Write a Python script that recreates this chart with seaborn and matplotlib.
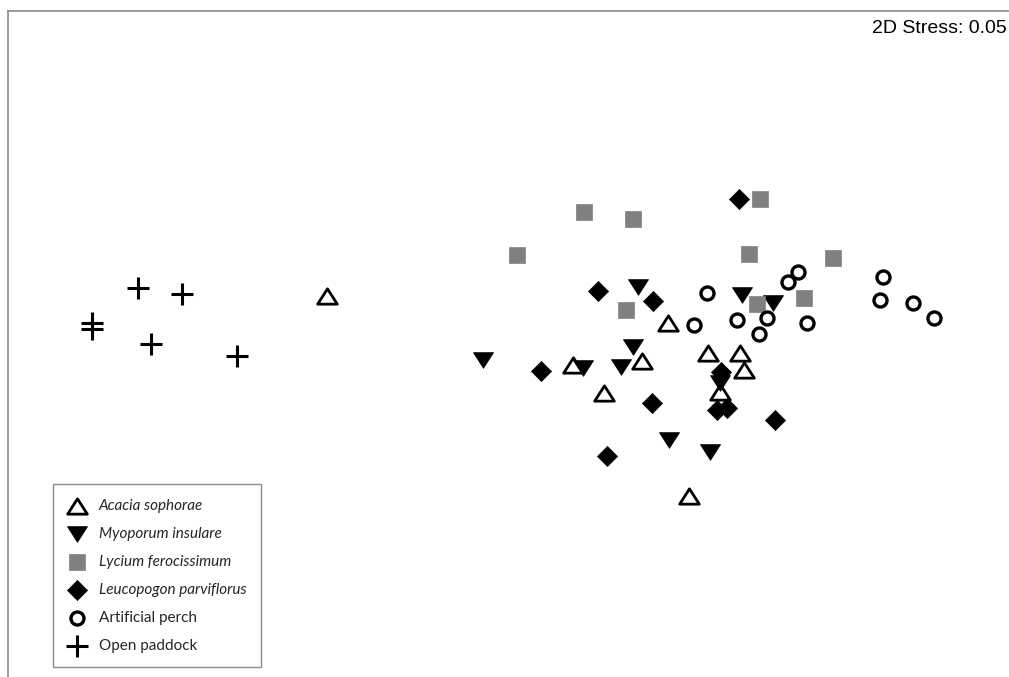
import matplotlib
matplotlib.use("Agg")
import matplotlib.pyplot as plt
from matplotlib.path import Path
import seaborn as sns
import pandas as pd

# NMDS ordination scores (axis 1, axis 2) per substrate group
acacia_x = [327, 668, 573, 642, 604, 708, 740, 744, 720, 689]
acacia_y = [381, 354, 312, 316, 284, 324, 324, 307, 285, 181]

myoporum_x = [483, 583, 621, 633, 638, 742, 773, 720, 669, 710]
myoporum_y = [317, 309, 310, 330, 390, 382, 374, 294, 237, 225]

lycium_x = [517, 584, 633, 760, 749, 833, 757, 804, 626]
lycium_y = [422, 465, 458, 478, 423, 419, 373, 379, 367]

leucopogon_x = [739, 598, 653, 541, 652, 607, 721, 717, 727, 775]
leucopogon_y = [478, 386, 376, 306, 274, 221, 305, 267, 269, 257]

perch_x = [707, 694, 737, 767, 759, 788, 798, 807, 883, 880, 913, 934]
perch_y = [384, 352, 357, 359, 343, 395, 405, 354, 400, 377, 374, 359]

paddock_x = [138, 182, 92, 92, 151, 237]
paddock_y = [389, 383, 354, 348, 333, 321]

group_names = ["Acacia sophorae", "Myoporum insulare", "Lycium ferocissimum",
               "Leucopogon parviflorus", "Artificial perch", "Open paddock"]
stress_label = "2D Stress: 0.05"

sns.set_style("white")
plt.rcParams["font.family"] = ["Lato", "DejaVu Sans"]

fig = plt.figure(figsize=(10.09, 6.77), dpi=100)
ax = fig.add_axes([8 / 1009, 0, 1001 / 1009, 666 / 677])

# slightly flattened triangles, closed so the outline is complete
tri_up = Path([(-1, -0.78), (1, -0.78), (0, 0.78), (-1, -0.78)],
              [Path.MOVETO, Path.LINETO, Path.LINETO, Path.CLOSEPOLY])
tri_down = Path([(-1, 0.78), (1, 0.78), (0, -0.78), (-1, 0.78)],
                [Path.MOVETO, Path.LINETO, Path.LINETO, Path.CLOSEPOLY])

groups = [
    (acacia_x, acacia_y, dict(marker=tri_up, s=200, color="white", edgecolor="black", linewidth=2.0)),
    (myoporum_x, myoporum_y, dict(marker=tri_down, s=210, color="black", edgecolor="black", linewidth=0.5)),
    (lycium_x, lycium_y, dict(marker="s", s=130, color="#808080", edgecolor="#808080", linewidth=0.5)),
    (leucopogon_x, leucopogon_y, dict(marker="D", s=105, color="black", edgecolor="black", linewidth=0.5)),
    (perch_x, perch_y, dict(marker="o", s=88, color="white", edgecolor="black", linewidth=2.4)),
    (paddock_x, paddock_y, dict(marker="+", s=250, color="black", linewidth=2.2)),
]

for name, (gx, gy, style) in zip(group_names, groups):
    df = pd.DataFrame({"NMDS1": gx, "NMDS2": gy})
    sns.scatterplot(data=df, x="NMDS1", y="NMDS2", ax=ax, label=name, zorder=3, **style)

ax.set_xlim(8, 1009)
ax.set_ylim(0, 666)
ax.set_xticks([])
ax.set_yticks([])
ax.set_xlabel("")
ax.set_ylabel("")
for side in ["right", "bottom"]:
    ax.spines[side].set_visible(False)
for side in ["left", "top"]:
    ax.spines[side].set_color("#8c8c8c")
    ax.spines[side].set_linewidth(1.2)

ax.text(0.998, 0.9735, stress_label, transform=ax.transAxes, ha="right", va="center",
        fontsize=14, family=["Liberation Sans", "DejaVu Sans"], color="black")

leg = ax.legend(loc="upper left", bbox_to_anchor=(53 / 1009, 1 - 484 / 677),
                bbox_transform=fig.transFigure, borderaxespad=0, frameon=True,
                fancybox=False, framealpha=1, edgecolor="#8c8c8c",
                fontsize=11, labelspacing=0.92, handlelength=1.3, handletextpad=0.75,
                borderpad=0.95, scatterpoints=1)
leg.get_frame().set_linewidth(1.0)
for i, t in enumerate(leg.get_texts()):
    if i < 4:
        t.set_fontstyle("italic")

fig.savefig("out.png", dpi=100)
